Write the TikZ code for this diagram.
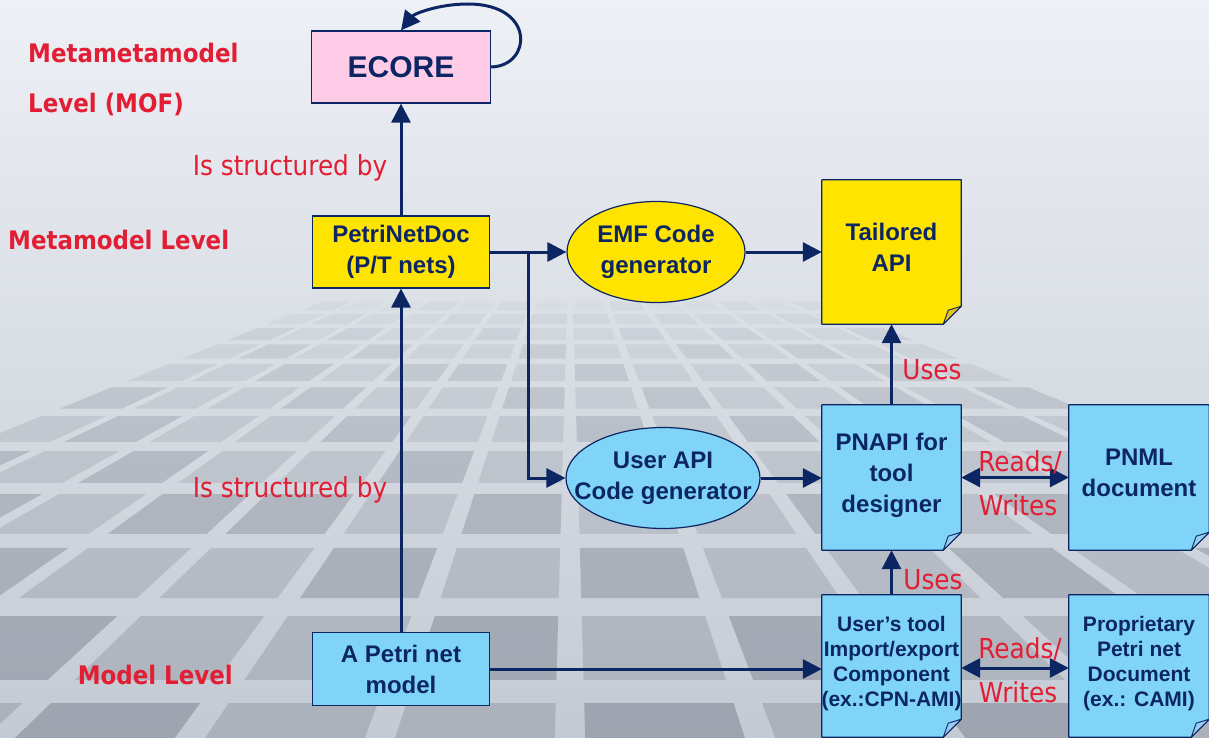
\documentclass[tikz,border=0pt]{standalone}
\usepackage{fontspec}
\setmainfont{Liberation Sans}
\newfontfamily\labfont[FakeStretch=0.9]{DejaVu Sans}
\usetikzlibrary{arrows.meta,shapes.geometric}
\definecolor{navy}{RGB}{12,38,100}
\definecolor{lblred}{RGB}{226,30,52}
\definecolor{pinkfill}{RGB}{255,204,232}
\definecolor{yelfill}{RGB}{255,228,0}
\definecolor{yelfold}{RGB}{222,192,30}
\definecolor{bluefill}{RGB}{128,212,248}
\definecolor{bluefold}{RGB}{150,205,240}
\definecolor{bgtop}{RGB}{237,240,245}
\definecolor{bgmid}{RGB}{224,228,235}
\definecolor{bgbot}{RGB}{196,202,211}
\definecolor{tilegray}{RGB}{100,108,122}
\pgfdeclarelayer{bg}
\pgfsetlayers{bg,main}

% document outline with a folded bottom-right corner
\newcommand\docshape[3]{%
  \filldraw[draw=navy, line width=1.2pt, fill=#2, line join=round]
    (#1.north west) -- (#1.north east) -- ([yshift=18pt]#1.south east)
    -- ([xshift=-18pt]#1.south east) -- (#1.south west) -- cycle;
  \filldraw[draw=navy, line width=0.9pt, fill=#3, line join=round]
    ([yshift=18pt]#1.south east) -- ([xshift=-13pt,yshift=14pt]#1.south east)
    -- ([xshift=-18pt]#1.south east) -- cycle;}

\begin{document}
\begin{tikzpicture}[x=1pt,y=-1pt,
  boxtxt/.style={font=\bfseries\fontsize{24}{31}\selectfont, text=navy, align=center},
  smalltxt/.style={font=\bfseries\fontsize{21}{25}\selectfont, text=navy, align=center},
  rbox/.style={boxtxt, draw=navy, line width=1.2pt, inner sep=0pt},
  doc/.style 2 args={minimum width=#1pt, minimum height=#2pt, inner sep=0pt, draw=none},
  doctxt/.style={boxtxt, inner sep=0pt, yshift=5pt},
  docsmall/.style={smalltxt, inner sep=0pt, yshift=2pt},
  gen/.style={ellipse, draw=navy, line width=1.2pt, inner sep=0pt},
  gentxt/.style={boxtxt, inner sep=0pt},
  lab/.style={font=\labfont\fontsize{27.5}{30}\selectfont, text=lblred, inner sep=0pt},
  levlab/.style={font=\labfont\bfseries\fontsize{25.5}{30}\selectfont, text=lblred, inner sep=0pt},
  arr/.style={draw=navy, line width=3pt, -{Triangle[length=19pt,width=19pt]}},
  darr/.style={draw=navy, line width=3pt, {Triangle[length=19pt,width=19pt]}-{Triangle[length=19pt,width=19pt]}},
  plain/.style={draw=navy, line width=3pt}]
\useasboundingbox (0,0) rectangle (1209,738);

% backdrop: hazy sky and a tiled floor running towards the horizon
\begin{pgfonlayer}{bg}
  \shade[top color=bgtop, middle color=bgmid, bottom color=bgbot] (0,0) rectangle (1209,738);
  \begin{scope}
    \clip (0,0) rectangle (1209,738);
    \foreach \ya/\yb [count=\i] in {300/312,312/326,326/342,342/361,361/384,384/412,
                                    412/446,446/488,488/540,540/606,606/690,690/800} {
      \pgfmathsetmacro\g{(\yb-\ya)*0.12}
      \pgfmathsetmacro\op{0.012+0.021*\i}
      \pgfmathsetmacro\ta{\ya+\g}
      \pgfmathsetmacro\tb{\yb-\g}
      \pgfmathsetmacro\fa{0.35333*(\ta-200)}
      \pgfmathsetmacro\fb{0.35333*(\tb-200)}
      \foreach \c in {-7,...,6} {
        \pgfmathsetmacro\sh{mod(abs(\c*7+\i*3),5)<2 ? 1.5 : 1}
        \pgfmathsetmacro\o{\op*\sh}
        \fill[tilegray, fill opacity=\o]
          ({570+(\c+0.08)*\fa},\ta) -- ({570+(\c+0.92)*\fa},\ta)
          -- ({570+(\c+0.92)*\fb},\tb) -- ({570+(\c+0.08)*\fb},\tb) -- cycle;
      }
    }
  \end{scope}
\end{pgfonlayer}

% level captions
\node[levlab, anchor=west] (mmm1) at (28,53) {Metametamodel};
\node[levlab, anchor=west] (mmm2) at (28,104) {Level (MOF)};
\node[levlab, anchor=west] (mm) at (8,240) {Metamodel Level};
\node[levlab, anchor=east] (ml) at (233,675) {Model Level};

% boxes
\node[rbox, fill=pinkfill, minimum width=179pt, minimum height=72pt,
      font=\bfseries\fontsize{30}{34}\selectfont] (ecore) at (401,67) {ECORE};
\node[rbox, fill=yelfill, minimum width=177pt, minimum height=72pt] (pnd) at (401,252) {PetriNetDoc\\(P/T nets)};
\node[rbox, fill=bluefill, minimum width=177pt, minimum height=73pt] (model) at (401,669) {A Petri net\\model};

\node[gen, fill=yelfill, minimum width=178pt, minimum height=101pt,
      label={[gentxt]center:EMF Code\\generator}] (emf) at (656,252) {};
\node[gen, fill=bluefill, minimum width=194pt, minimum height=101pt,
      label={[gentxt]center:User API\\Code generator}] (uapi) at (663,478) {};

\node[doc={139}{144}, label={[doctxt]center:Tailored\\API}] (tail) at (891.5,252) {};
\node[doc={139}{145}, label={[doctxt, yshift=-3pt]center:PNAPI for\\tool\\designer}] (pnapi) at (891.5,477.5) {};
\node[doc={140}{145}, label={[doctxt]center:PNML\\document}] (pnml) at (1139,477.5) {};
\node[doc={139}{142}, label={[docsmall]center:User’s tool\\Import/export\\Component\\(ex.:CPN-AMI)}] (tool) at (891.5,666) {};
\node[doc={140}{142}, label={[docsmall]center:Proprietary\\Petri net\\Document\\(ex.: CAMI)}] (prop) at (1139,666) {};

\begin{pgfonlayer}{bg}
  \docshape{tail}{yelfill}{yelfold}
  \docshape{pnapi}{bluefill}{bluefold}
  \docshape{pnml}{bluefill}{bluefold}
  \docshape{tool}{bluefill}{bluefold}
  \docshape{prop}{bluefill}{bluefold}
\end{pgfonlayer}

% connectors
\draw[arr] (ecore.east) .. controls (532,66) and (536,4) .. (468,4)
  .. controls (438,4) and (414,14) .. (ecore.north);
\draw[arr] (pnd.north) -- (ecore.south);
\draw[arr] (model.north) -- (pnd.south);

\coordinate (split) at (528,252);
\draw[plain] (pnd.east) -- (split);
\draw[arr] (split) -- (emf.west);
\draw[arr] (split) |- (uapi.west);
\draw[arr] (emf.east) -- (tail.west);
\draw[arr] (uapi.east) -- (uapi.east -| pnapi.west);
\draw[arr] (pnapi.north) -- (tail.south);
\draw[arr] (tool.north) -- (pnapi.south);
\draw[darr] (pnapi.east) -- (pnml.west);
\draw[darr] (tool.east |- 0,668) -- (prop.west |- 0,668);
\draw[arr] (model.east) -- (model.east -| tool.west);

% connector captions
\node[lab] (s1) at (290,168) {Is structured by};
\node[lab] (s2) at (290,490) {Is structured by};
\node[lab] (u1) at (932,370) {Uses};
\node[lab] (u2) at (933,580) {Uses};
\node[lab] (r1) at (1020,462) {Reads/};
\node[lab] (w1) at (1018,505) {Writes};
\node[lab] (r2) at (1020,649) {Reads/};
\node[lab] (w2) at (1018,692) {Writes};
\end{tikzpicture}
\end{document}
